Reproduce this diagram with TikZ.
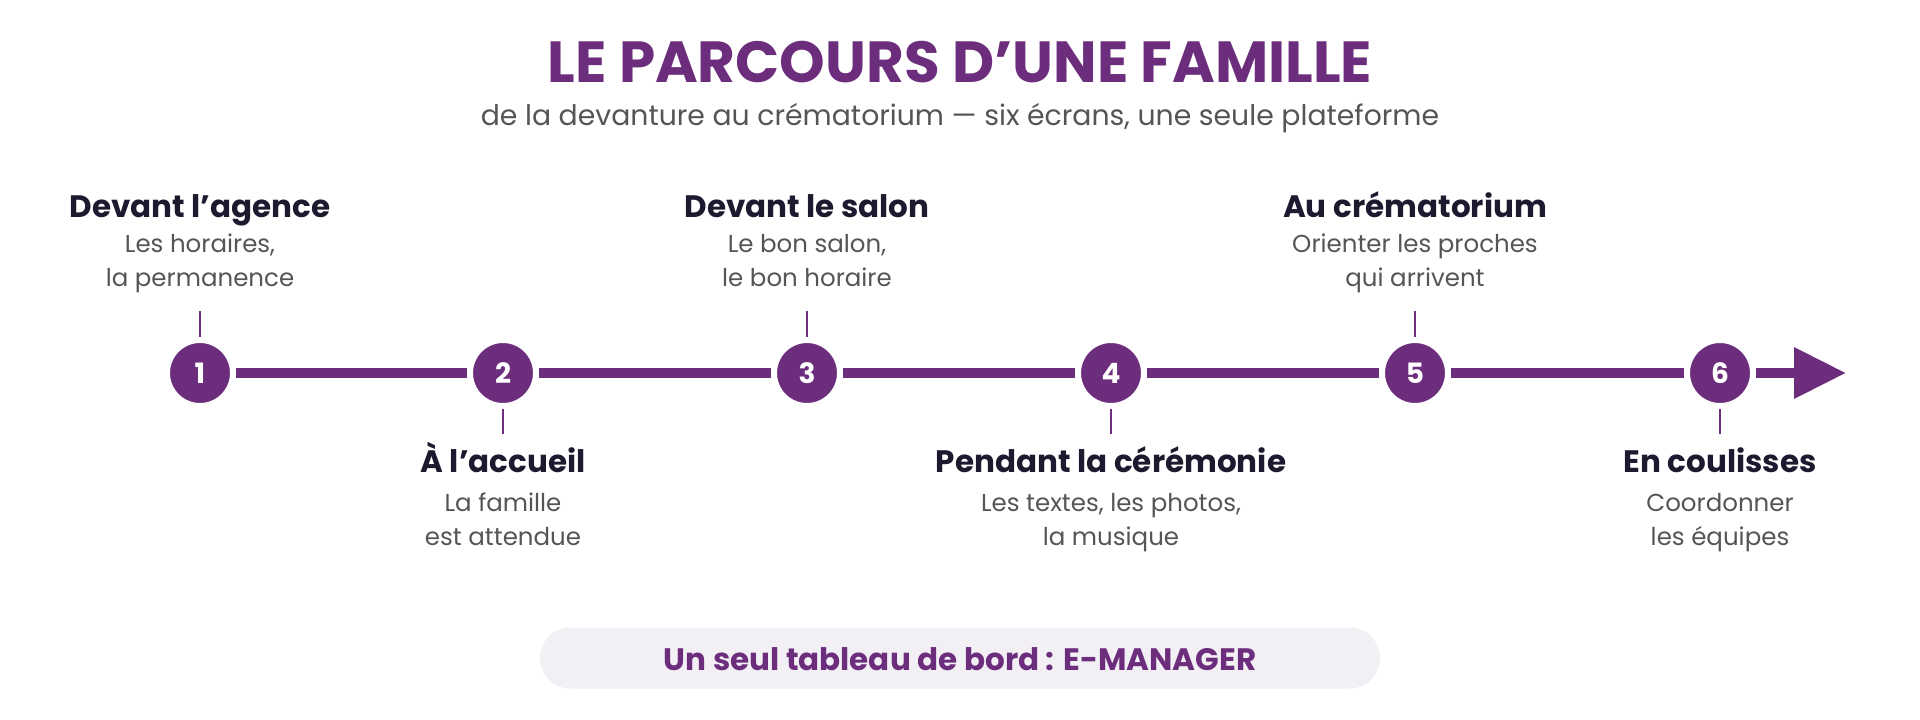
\documentclass[tikz,border=0pt]{standalone}
\usepackage{fontspec}
\setmainfont{Poppins}
\usetikzlibrary{arrows.meta}
\definecolor{purp}{HTML}{6C2E7C}
\definecolor{ink}{HTML}{1D1A2F}
\definecolor{grey}{HTML}{555555}
\definecolor{pill}{HTML}{F2EFF5}

\begin{document}
\begin{tikzpicture}[x=1pt, y=-1pt, thick,
    etape/.style = {circle, fill=purp, draw=white, line width=6pt, minimum size=66pt,
      inner sep=0pt, text=white, font=\fontsize{28}{28}\selectfont\bfseries},
    titre/.style = {anchor=base, text=ink, font=\fontsize{31}{31}\selectfont\bfseries},
    desc/.style = {anchor=base, align=center, text=grey, font=\fontsize{24.5}{33.5}\selectfont},
    axe/.style = {purp, line width=10pt},
    tick/.style = {purp, line width=2.5pt}]
    \useasboundingbox (0,0) rectangle (1920,720);

    % Title
    \node[anchor=base, text=purp, font=\fontsize{58}{58}\selectfont\bfseries] (title) at (960, 82) {LE PARCOURS D’UNE FAMILLE};
    \node[anchor=base, text=grey, font=\fontsize{28.3}{28.3}\selectfont] (sub) at (960, 125) {de la devanture au crématorium — six écrans, une seule plateforme};

    % Nodes

    \node[etape] (1) at (200, 373) {1};
    \node[etape] (2) at (503, 373) {2};
    \node[etape] (3) at (807, 373) {3};
    \node[etape] (4) at (1111, 373) {4};
    \node[etape] (5) at (1415, 373) {5};
    \node[etape] (6) at (1720, 373) {6};
    \coordinate (fin) at (1846, 373);

    \coordinate (t1) at (200, 311);
    \coordinate (t2) at (503, 434);
    \coordinate (t3) at (807, 311);
    \coordinate (t4) at (1111, 434);
    \coordinate (t5) at (1415, 311);
    \coordinate (t6) at (1720, 434);

    \node[titre] (h1) at (200, 217) {Devant l’agence};
    \node[desc] (d1) at (200, 286) {Les horaires,\\la permanence};
    \node[titre] (h2) at (503, 472) {À l’accueil};
    \node[desc] (d2) at (503, 545) {La famille\\est attendue};
    \node[titre] (h3) at (807, 217) {Devant le salon};
    \node[desc] (d3) at (807, 286) {Le bon salon,\\le bon horaire};
    \node[titre] (h4) at (1111, 472) {Pendant la cérémonie};
    \node[desc] (d4) at (1111, 545) {Les textes, les photos,\\la musique};
    \node[titre] (h5) at (1415, 217) {Au crématorium};
    \node[desc] (d5) at (1415, 286) {Orienter les proches\\qui arrivent};
    \node[titre] (h6) at (1720, 472) {En coulisses};
    \node[desc] (d6) at (1720, 545) {Coordonner\\les équipes};

    \node[fill=pill, rounded corners=30.5pt, minimum width=840pt, minimum height=61pt] (bord) at (960, 658) {};
    \node[anchor=base, text=purp, font=\fontsize{31}{31}\selectfont\bfseries] (btxt) at (960, 670) {Un seul tableau de bord : E-MANAGER};

    % Edges

    \draw[axe] (1) -- (2);
    \draw[axe] (2) -- (3);
    \draw[axe] (3) -- (4);
    \draw[axe] (4) -- (5);
    \draw[axe] (5) -- (6);
    \draw[axe, -{Triangle[length=52pt, width=49pt]}] (6) -- (fin);

    \draw[tick] (t1) -- (1);
    \draw[tick] (t2) -- (2);
    \draw[tick] (t3) -- (3);
    \draw[tick] (t4) -- (4);
    \draw[tick] (t5) -- (5);
    \draw[tick] (t6) -- (6);

\end{tikzpicture}
\end{document}
